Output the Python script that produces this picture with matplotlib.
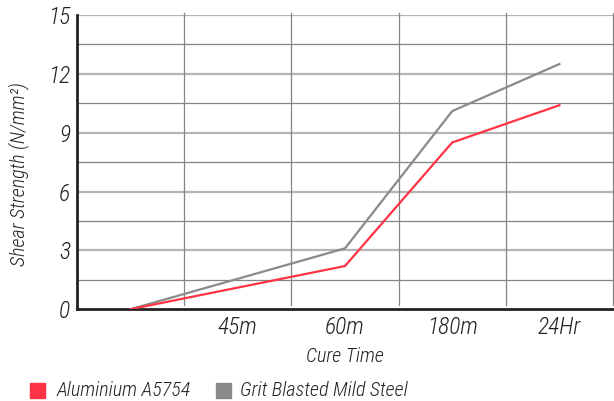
import numpy as np
import matplotlib
matplotlib.use("Agg")
import matplotlib.pyplot as plt
from matplotlib.patches import Rectangle

plt.rcParams['font.family'] = ['Roboto Condensed', 'Liberation Sans Narrow', 'Roboto', 'DejaVu Sans']
plt.rcParams['font.style'] = 'italic'
plt.rcParams['font.weight'] = 'light'
plt.rcParams['axes.labelweight'] = 'light'

# data
categories = ["", "45m", "60m", "180m", "24Hr"]
point_cats = ["", "60m", "180m", "24Hr"]
aluminium = [0, 2.2, 8.5, 10.4]
steel = [0, 3.1, 10.1, 12.5]
y_ticks = [0, 3, 6, 9, 12, 15]
y_minor = [1.5, 4.5, 7.5, 10.5, 13.5]

red = "#ff3344"
grey = "#8a8a8a"
ink = "#222222"

fig = plt.figure(figsize=(6.14, 4.01), dpi=100)
ax = fig.add_axes([0.1254, 0.229, 0.8730, 0.7336])

xs = [categories.index(c) for c in point_cats]
ax.set_xlim(-0.5, len(categories) - 0.5)
ax.set_ylim(0, 15)

# grid
for y in y_ticks[1:]:
    ax.axhline(y, color="#b4b4b4", lw=1.6, zorder=1)
for y in y_minor:
    ax.axhline(y, color="#858585", lw=0.9, zorder=1)
for i in range(len(categories)):
    ax.axvline(i + 0.5, ymin=0.013, ymax=1.008, color="#858585", lw=0.9,
               zorder=1, clip_on=False)

ax.plot(xs, steel, color=grey, lw=1.6, zorder=3)
ax.plot(xs, aluminium, color=red, lw=1.6, zorder=4)

for s in ["top", "right"]:
    ax.spines[s].set_visible(False)
ax.spines["left"].set_linewidth(2.0)
ax.spines["bottom"].set_linewidth(2.0)
ax.spines["left"].set_color(ink)
ax.spines["bottom"].set_color(ink)

ax.set_xticks(range(len(categories)))
ax.set_xticklabels(categories, fontsize=17, color=ink)
ax.set_yticks(y_ticks)
ax.set_yticklabels([str(v) for v in y_ticks], fontsize=17, color=ink)
ax.tick_params(length=0)
ax.tick_params(axis="x", pad=5)
ax.tick_params(axis="y", pad=5)

ax.set_xlabel("Cure Time", fontsize=14.5, color=ink, labelpad=6)
ax.set_ylabel("Shear Strength (N/mm²)", fontsize=14.5, color=ink)
ax.yaxis.set_label_coords(-0.09, 0.46)

# legend
fig.patches.append(Rectangle((30 / 614, 1 - 398 / 401), 15 / 614, 15 / 401,
                             transform=fig.transFigure, color=red))
fig.text(57 / 614, 1 - 390 / 401, "Aluminium A5754", fontsize=14.5,
         color=ink, va="center")
fig.patches.append(Rectangle((216 / 614, 1 - 398 / 401), 15 / 614, 15 / 401,
                             transform=fig.transFigure, color=grey))
fig.text(240 / 614, 1 - 390 / 401, "Grit Blasted Mild Steel", fontsize=14.5,
         color=ink, va="center")

fig.savefig("out.png", dpi=100)
